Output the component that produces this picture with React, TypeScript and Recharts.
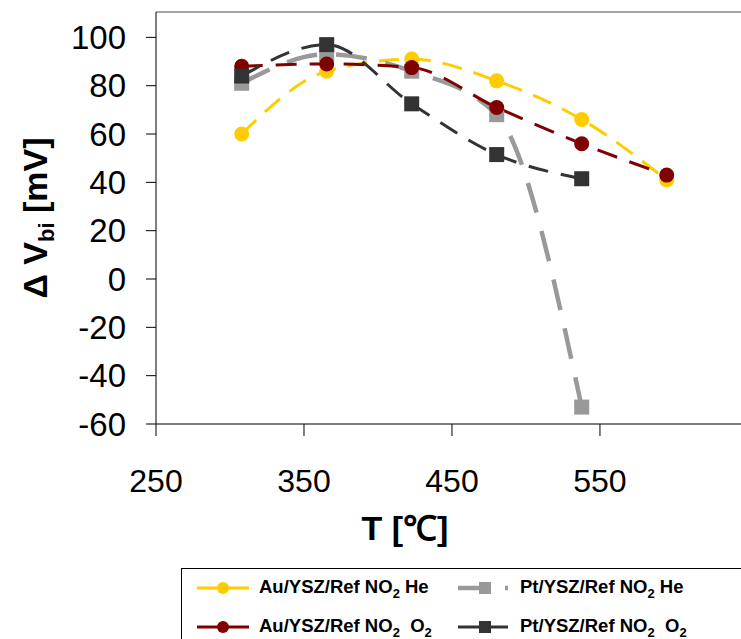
import React from 'react';
import { LineChart, Line, XAxis, YAxis, ReferenceLine, Label } from 'recharts';

// Temperatures (°C) where the points were measured
const temps = [300, 350, 400, 450, 500, 550];

// ΔV_bi in mV for each series
const auHe = [60, 86, 91, 82, 66, 41];
const auO2 = [88, 89, 87.5, 71, 56, 43];
const ptHe = [81, 93, 86, 68, -53];
const ptO2 = [84, 97, 72.5, 51.5, 41.5];

const xTicks = [250, 350, 450, 550];
const yTicks = [-60, -40, -20, 0, 20, 40, 60, 80, 100];

const data = temps.map((t, i) => ({
  t,
  auHe: auHe[i],
  auO2: auO2[i],
  ptHe: ptHe[i] ?? null,
  ptO2: ptO2[i] ?? null,
}));

const FONT = '"Liberation Sans", Arial, sans-serif';

const Square = (props: any) => {
  const { cx, cy, fill } = props;
  if (cx == null || cy == null || props.value == null) return <g key={props.key} />;
  return <rect key={props.key} x={cx - 7.5} y={cy - 7.5} width={15} height={15} fill={fill} />;
};

const Dot = (props: any) => {
  const { cx, cy, fill } = props;
  if (cx == null || cy == null) return <g key={props.key} />;
  return <circle key={props.key} cx={cx} cy={cy} r={7.5} fill={fill} />;
};

const Sub = ({ children }: { children: React.ReactNode }) => (
  <span style={{ fontSize: 13, position: 'relative', top: 5 }}>{children}</span>
);

const legendItems = [
  { x: 197, y: 588, color: '#FFCC00', shape: 'circle', width: 3, label: <>Au/YSZ/Ref NO<Sub>2</Sub> He</> },
  { x: 458, y: 588, color: '#999999', shape: 'square', width: 4.5, label: <>Pt/YSZ/Ref NO<Sub>2</Sub> He</> },
  { x: 197, y: 627, color: '#800000', shape: 'circle', width: 3, label: <>Au/YSZ/Ref NO<Sub>2</Sub>&nbsp; O<Sub>2</Sub></> },
  { x: 458, y: 627, color: '#333333', shape: 'square', width: 3, label: <>Pt/YSZ/Ref NO<Sub>2</Sub>&nbsp; O<Sub>2</Sub></> },
];

export default function App() {
  return (
    <div style={{ position: 'absolute', left: 0, top: 0, width: 741, height: 639, overflow: 'hidden', background: '#fff', fontFamily: FONT }}>
      <LineChart width={741} height={639} data={data} margin={{ top: 12, right: 0, left: 0, bottom: 135 }}>
        <XAxis
          xAxisId="t"
          dataKey="t"
          type="number"
          domain={[250, 645.3]}
          ticks={xTicks}
          interval={0}
          allowDataOverflow
          height={80}
          stroke="#000"
          tickSize={12}
          tickMargin={33}
          tick={{ fill: '#000', fontSize: 32, fontFamily: FONT }}
        >
          <Label
            content={() => (
              <text x={405} y={540} textAnchor="middle" fontSize={34} fontWeight="bold" fontFamily={FONT} fill="#000">
                T [℃]
              </text>
            )}
          />
        </XAxis>
        <XAxis
          xAxisId="data"
          dataKey="t"
          type="number"
          orientation="top"
          height={0}
          domain={[249.6, 593.7]}
          allowDataOverflow
          hide
        />
        <YAxis
          type="number"
          domain={[-60, 110.5]}
          ticks={yTicks}
          allowDataOverflow
          width={156}
          stroke="#000"
          tickSize={10}
          tickMargin={20}
          tick={{ fill: '#000', fontSize: 33, fontFamily: FONT }}
        >
          <Label
            content={() => (
              <text transform="translate(47,218) rotate(-90)" textAnchor="middle" fontSize={34} fontWeight="bold" fontFamily={FONT} fill="#000">
                Δ V<tspan fontSize={22} dy={7}>bi</tspan>
                <tspan dy={-7}> [mV]</tspan>
              </text>
            )}
          />
        </YAxis>
        <ReferenceLine xAxisId="t" y={110.5} stroke="#888" strokeWidth={1.5} />
        <Line
          xAxisId="data"
          dataKey="auHe"
          type="monotone"
          stroke="#FFCC00"
          strokeWidth={3}
          strokeDasharray="20 12"
          dot={(p: any) => <Dot {...p} key={`a${p.index}`} fill="#FFCC00" />}
          isAnimationActive={false}
        />
        <Line
          xAxisId="data"
          dataKey="ptHe"
          type="monotone"
          stroke="#999999"
          strokeWidth={4.5}
          strokeDasharray="31 19"
          dot={(p: any) => <Square {...p} key={`b${p.index}`} fill="#999999" />}
          isAnimationActive={false}
        />
        <Line
          xAxisId="data"
          dataKey="auO2"
          type="monotone"
          stroke="#800000"
          strokeWidth={3}
          strokeDasharray="21 13"
          dot={(p: any) => <Dot {...p} key={`c${p.index}`} fill="#800000" />}
          isAnimationActive={false}
        />
        <Line
          xAxisId="data"
          dataKey="ptO2"
          type="monotone"
          stroke="#333333"
          strokeWidth={3}
          strokeDasharray="20 13"
          dot={(p: any) => <Square {...p} key={`d${p.index}`} fill="#333333" />}
          isAnimationActive={false}
        />
      </LineChart>

      {/* legend box, cut off at the right and bottom like the source */}
      <div style={{ position: 'absolute', left: 181, top: 568, width: 640, height: 120, border: '1px solid #000', boxSizing: 'border-box' }} />
      {legendItems.map((it, i) => (
        <React.Fragment key={i}>
          <svg style={{ position: 'absolute', left: it.x, top: it.y - 10 }} width={56} height={20}>
            {it.shape === 'circle' ? (
              <>
                <line x1={0} y1={10} x2={52} y2={10} stroke={it.color} strokeWidth={it.width} />
                <circle cx={26} cy={10} r={6} fill={it.color} />
              </>
            ) : (
              <>
                <line x1={0} y1={10} x2={50} y2={10} stroke={it.color} strokeWidth={it.width} strokeDasharray={i === 1 ? '27 20 12 10' : undefined} />
                <rect x={21} y={4} width={12} height={12} fill={it.color} />
              </>
            )}
          </svg>
          <div style={{ position: 'absolute', left: it.x + 62, top: it.y - 12, fontSize: 18.5, fontWeight: 'bold', lineHeight: '22px', whiteSpace: 'nowrap', color: '#000' }}>
            {it.label}
          </div>
        </React.Fragment>
      ))}
    </div>
  );
}
